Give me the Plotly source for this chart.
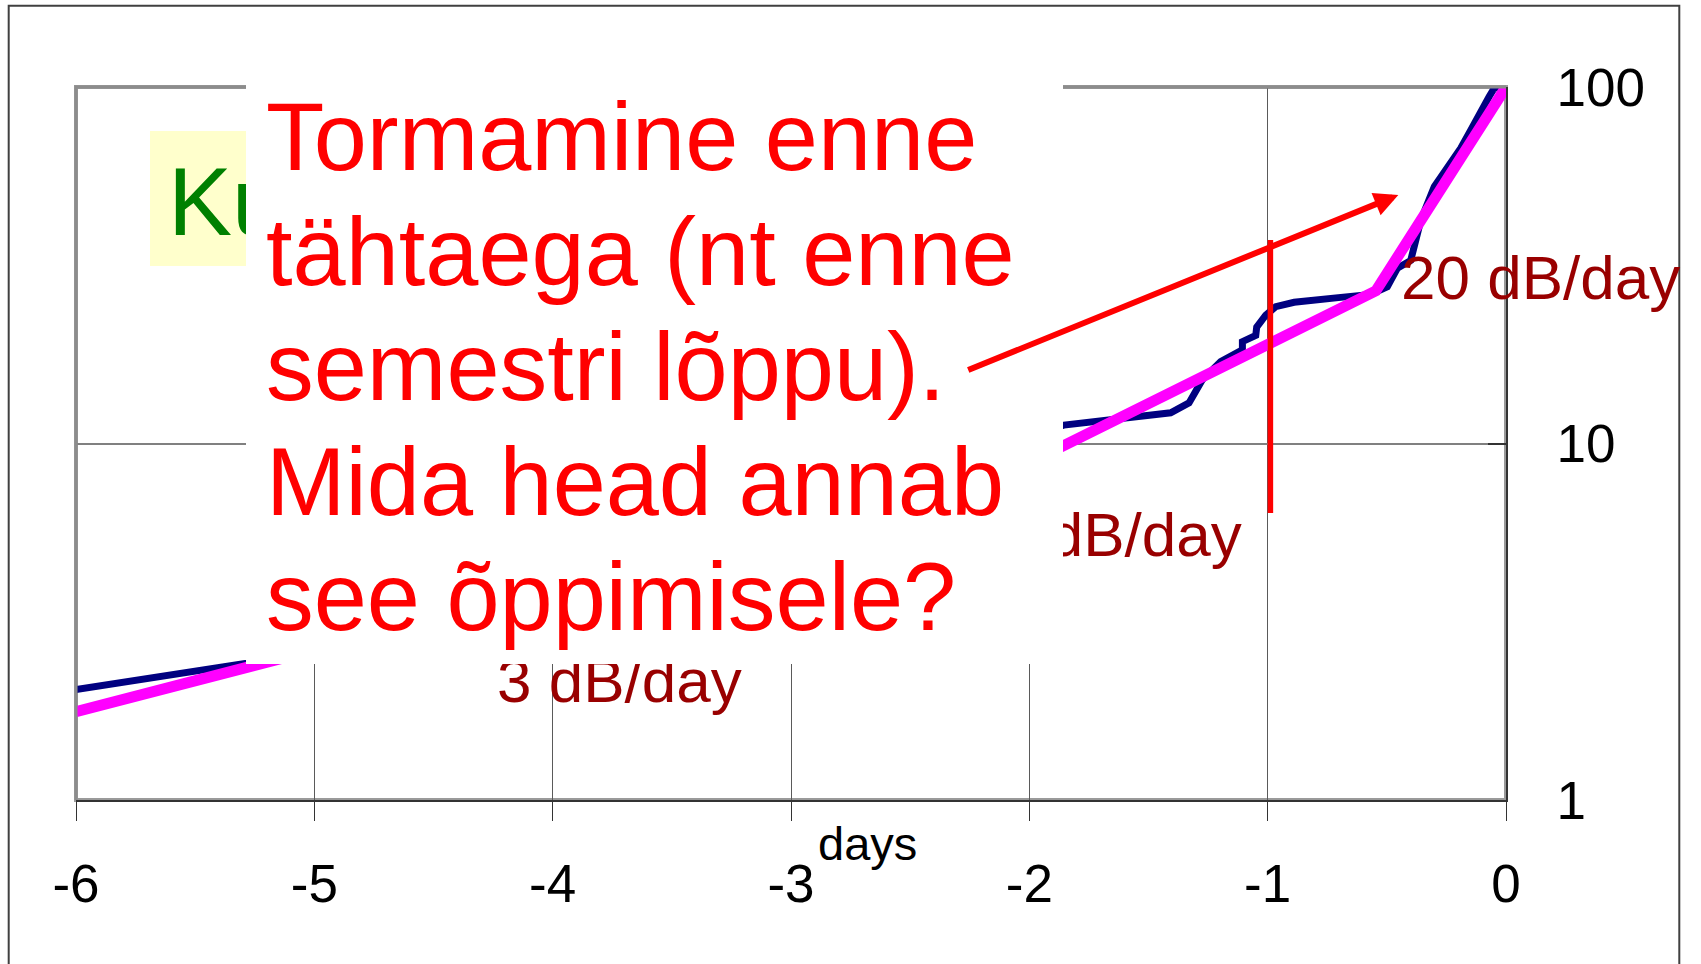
import plotly.graph_objects as go

# ---------------- data ----------------
x_tickvals = [-6, -5, -4, -3, -2, -1, 0]
x_ticktext = ["-6", "-5", "-4", "-3", "-2", "-1", "0"]
y_tickvals = [1, 10, 100]
y_ticktext = ["1", "10", "100"]

measured_days = [-6.0, -5.283, -1.855, -1.673, -1.407, -1.330, -1.295, -1.274,
                 -1.197, -1.106, -1.106, -1.050, -1.046, -1.008, -0.966, -0.889,
                 -0.693, -0.568, -0.498, -0.456, -0.400, -0.385, -0.357, -0.301,
                 -0.267, -0.232, -0.190, -0.148, -0.106, -0.071, -0.050, -0.010]
measured_values = [2.04, 2.42, 11.26, 11.63, 12.19, 13.0, 14.3, 15.1,
                   16.96, 18.3, 19.3, 20.1, 21.2, 22.9, 24.2, 24.9,
                   25.7, 26.2, 27.5, 31.0, 32.6, 35.6, 42.4, 52.5,
                   56.6, 61.1, 67.3, 75.7, 86.1, 93.9, 99.1, 100.0]

fit_days = [-6.0, -2.04, -0.546, 0.0]
fit_values = [1.77, 8.57, 26.8, 100.0]

marker_days = [-0.9885, -0.9885]
marker_values = [37.2, 6.38]

slope_labels = ["3 dB/day", "6 dB/day", "20 dB/day"]
axis_word = "days"
hidden_title = "Ku"
question_lines = ["Tormamine enne", "tähtaega (nt enne", "semestri lõppu).",
                  "Mida head annab", "see õppimisele?"]

# ---------------- layout geometry (pixels) ----------------
W, H = 1701, 964
ML, MR, MT, MB = 76, 195, 87, 164
PL, PR, PT, PB = ML, W - MR, MT, H - MB


def xp(px):
    return (px - PL) / (PR - PL)


def yp(py):
    return (PB - py) / (PB - PT)


FONT = "Liberation Sans, Arial, sans-serif"
DARKRED = "#990000"

fig = go.Figure()
fig.add_trace(go.Scatter(x=measured_days, y=measured_values, mode="lines",
                         line=dict(color="#000080", width=7), hoverinfo="skip"))
fig.add_trace(go.Scatter(x=fit_days, y=fit_values, mode="lines",
                         line=dict(color="#FF00FF", width=11), hoverinfo="skip"))
fig.add_trace(go.Scatter(x=marker_days, y=marker_values, mode="lines",
                         line=dict(color="#FF0000", width=5.5), hoverinfo="skip"))

shapes = [
    # plot area border (under everything)
    dict(type="rect", xref="paper", yref="paper", x0=0, x1=1, y0=0, y1=1,
         line=dict(color="#9a9a9a", width=4), layer="below"),
    # gray left + top border on top
    dict(type="path", xref="paper", yref="paper", path="M 0,0 L 0,1 L 1,1",
         line=dict(color="#8c8c8c", width=3), layer="above"),
    # outer frame
    dict(type="rect", xref="paper", yref="paper", x0=xp(8.7), x1=xp(1679.3),
         y0=yp(5.7), y1=yp(1100), line=dict(color="#404040", width=2), layer="above"),
    # yellow box behind "Ku"
    dict(type="rect", xref="paper", yref="paper", x0=xp(150), x1=xp(320),
         y0=yp(266), y1=yp(131), fillcolor="#FFFFCC", line=dict(width=0), layer="above"),
]


def ann(text, x, y, size, color, xanchor="left", yanchor="middle"):
    return dict(text=text, x=x, y=y, xref="paper", yref="paper", showarrow=False,
                xanchor=xanchor, yanchor=yanchor, borderpad=0, borderwidth=0,
                font=dict(family=FONT, size=size, color=color))


def center_from_baseline(baseline, size):
    return baseline - 0.3465 * size


annotations = []
annotations.append(ann(hidden_title, xp(168), yp(center_from_baseline(234.3, 96)), 96, "#008000"))
annotations.append(ann(slope_labels[0], xp(496.6), yp(center_from_baseline(701.7, 62)), 62, DARKRED))
annotations.append(ann(slope_labels[1], xp(1242), yp(center_from_baseline(556, 62)), 62, DARKRED,
                       xanchor="right"))
annotations.append(ann(slope_labels[2], xp(1401), yp(center_from_baseline(299, 62)), 62, DARKRED))
annotations.append(ann(axis_word, xp(867), yp(center_from_baseline(860, 47)), 47, "black",
                       xanchor="center"))
# white covering box
annotations.append(dict(text=" ", x=xp(246), y=yp(70), xref="paper", yref="paper",
                        showarrow=False, xanchor="left", yanchor="top",
                        width=817, height=594, bgcolor="white", borderpad=0, borderwidth=0,
                        font=dict(family=FONT, size=10, color="white")))
baselines = [170, 285, 400, 515, 630]
for line, b in zip(question_lines, baselines):
    annotations.append(ann(line, xp(266), yp(center_from_baseline(b, 95.5)), 95.5, "#FF0000"))
# arrow
tip_px, tip_py = 1398.3, 195.0
tail_px, tail_py = 966.7, 370.7
annotations.append(dict(text="", x=xp(tip_px), y=yp(tip_py), xref="paper", yref="paper",
                        showarrow=True, axref="pixel", ayref="pixel",
                        ax=tail_px - tip_px, ay=tail_py - tip_py,
                        arrowhead=2, arrowsize=0.8, arrowwidth=6, arrowcolor="#FF0000",
                        standoff=0, startstandoff=0))

fig.update_layout(
    width=W, height=H,
    margin=dict(l=ML, r=MR, t=MT, b=MB, pad=0),
    paper_bgcolor="white", plot_bgcolor="white",
    showlegend=False,
    font=dict(family=FONT, color="black"),
    xaxis=dict(range=[-6, 0], tickvals=x_tickvals, ticktext=x_ticktext,
               showgrid=True, gridcolor="#5a5a5a", gridwidth=1,
               ticks="outside", ticklen=19, tickwidth=1, tickcolor="#333333",
               showline=True, linecolor="#333333", linewidth=2, zeroline=False,
               tickfont=dict(family=FONT, size=53, color="black"),
               ticklabelstandoff=17, fixedrange=True),
    yaxis=dict(type="log", range=[0, 2], side="right",
               tickvals=y_tickvals, ticktext=y_ticktext,
               showgrid=True, gridcolor="#808080", gridwidth=2,
               ticks="inside", ticklen=18, tickwidth=2, tickcolor="#333333",
               showline=True, linecolor="#333333", linewidth=2, zeroline=False,
               tickfont=dict(family=FONT, size=53, color="black"),
               ticklabelstandoff=38, fixedrange=True),
    shapes=shapes,
    annotations=annotations,
)

fig.write_html("out.html", config={"displayModeBar": False},
               post_script="document.body.style.margin='0';document.body.style.overflow='hidden';")
